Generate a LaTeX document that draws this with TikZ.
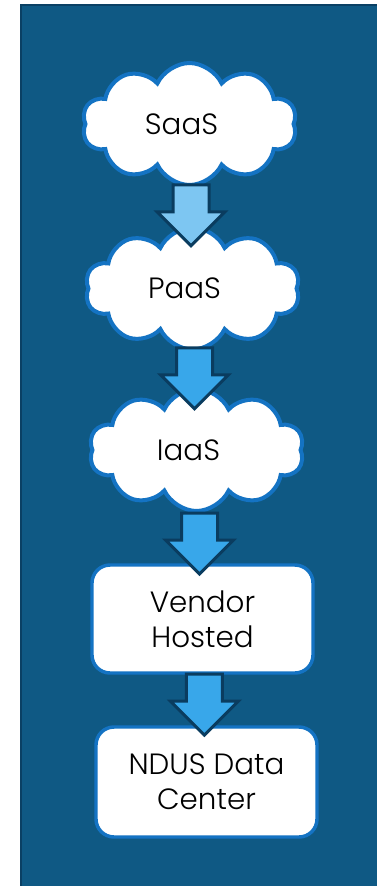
\documentclass[tikz,border=0pt]{standalone}
\usepackage{fontspec}
\setmainfont{Poppins Light}
\usetikzlibrary{positioning,shapes.symbols,shapes.arrows,calc}

\definecolor{panelblue}{RGB}{15,89,132}
\definecolor{paneledge}{RGB}{10,64,100}
\definecolor{cloudedge}{RGB}{20,115,195}
\definecolor{arrowlight}{RGB}{125,198,242}
\definecolor{arrowblue}{RGB}{56,167,234}
\definecolor{arrowedge}{RGB}{10,60,95}

\begin{document}
\begin{tikzpicture}[
    x=0.75pt, y=-0.75pt,
    cloudbox/.style={
        cloud, cloud puffs=10, cloud puff arc=130, cloud ignores aspect,
        minimum width=161pt,       % rộng như nhau
        minimum height=91.5pt,
        draw=cloudedge, line width=3pt, fill=white,
        font=\fontsize{22}{26}\selectfont
    },
    box/.style={
        rectangle, rounded corners=13.5pt,
        minimum width=165.75pt,
        minimum height=81pt,
        draw=cloudedge, line width=2.6pt, fill=white,
        align=center,
        font=\fontsize{22}{26}\selectfont
    },
    flowarrow/.style={
        single arrow, shape border rotate=270,
        single arrow head extend=12pt,
        minimum height=45.75pt,
        inner xsep=12.375pt, inner ysep=0pt,
        draw=arrowedge, line width=2.25pt, fill=arrowblue
    },
    node distance=31.5pt and 1.0cm  % khoảng cách dọc
]
\useasboundingbox (0,0) rectangle (377,886);

% --- Nền xanh ---
\draw[fill=panelblue, draw=paneledge, line width=1.5pt] (21,5) rectangle (380,890);

% --- Các đám mây ---
\node[cloudbox] (saas) at (189.5,124) {SaaS\hspace*{12pt}};
\node[cloudbox] (paas) at (192.5,288.5) {PaaS\hspace*{12pt}};
\node[cloudbox] (iaas) at (196.5,450) {IaaS\hspace*{12pt}};

% --- Hai hộp ---
\node[box] (vendor) at (202.5,619) {Vendor\\Hosted};
\node[box, minimum height=82.5pt] (ndus) at (206.5,782) {NDUS Data\\Center};

% --- Vẽ mũi tên ---
\node[flowarrow, fill=arrowlight] (a1) at ($(saas)!0.5!(paas)$) {};
\node[flowarrow] (a2) at ($(paas)!0.5!(iaas)$) {};
\node[flowarrow] (a3) at ($(iaas)!0.5!(vendor)$) {};
\node[flowarrow] (a4) at ($(vendor)!0.47!(ndus)$) {};

\end{tikzpicture}
\end{document}
